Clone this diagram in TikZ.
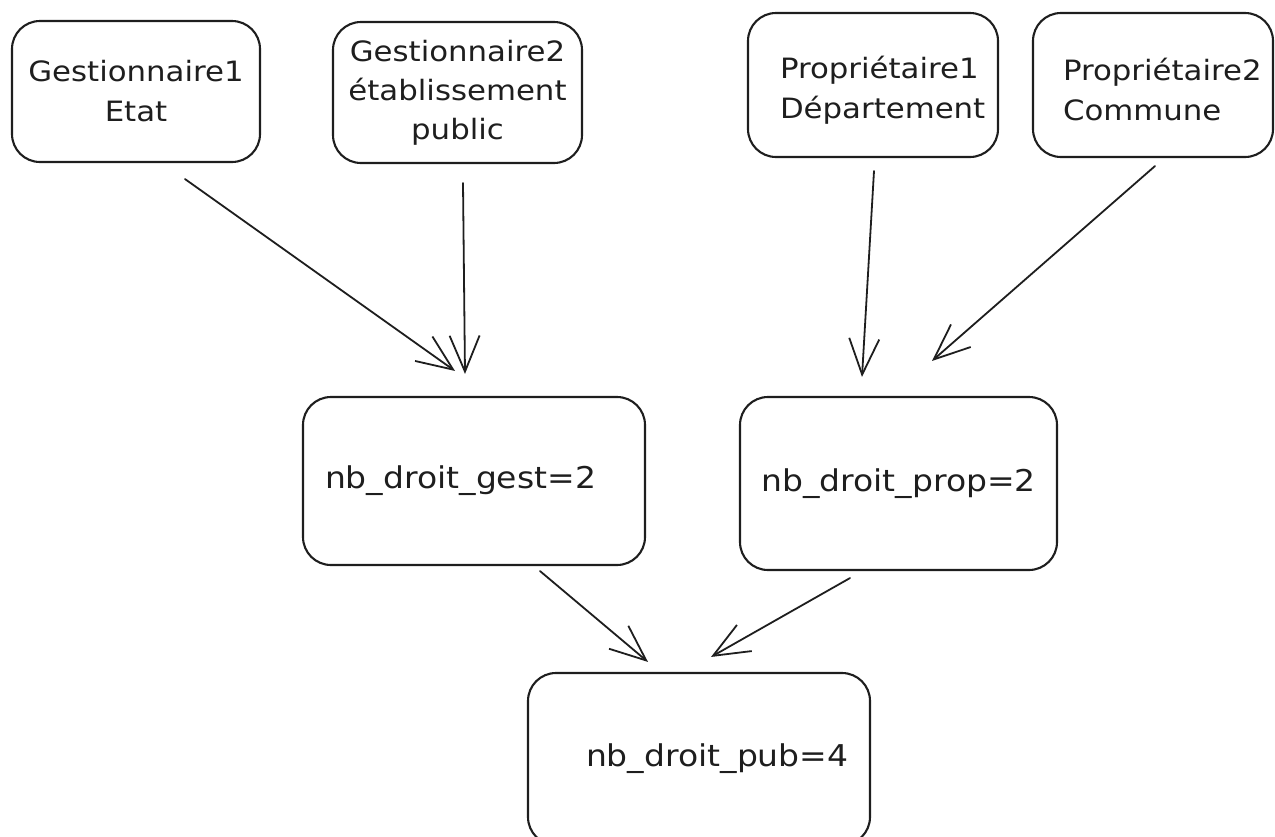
\documentclass[tikz,border=0pt]{standalone}
\usepackage{fontspec}
\setmainfont[FakeStretch=1.1]{DejaVu Sans}
\usetikzlibrary{arrows.meta,calc}
\definecolor{ink}{HTML}{1E1E1E}
\begin{document}
\begin{tikzpicture}[x=1pt,y=-1pt,
  box/.style={draw=ink, line width=2.1pt, rounded corners=28pt, inner sep=0pt, text=ink},
  toptxt/.style={font=\fontsize{28pt}{40pt}\selectfont},
  midtxt/.style={font=\fontsize{30pt}{40pt}\selectfont},
  arr/.style={draw=ink, line width=1.8pt, line cap=round,
    -{Straight Barb[length=36pt,width=30pt,line width=1.8pt]}}]
\useasboundingbox (0,0) rectangle (1275,836);
% top row
\node[box, toptxt, minimum width=248pt, minimum height=141pt, align=center] (b1) at (136,91.5)
  {Gestionnaire1\\Etat};
\node[box, toptxt, minimum width=249pt, minimum height=141pt, align=center,
  font=\fontsize{28pt}{39pt}\selectfont] (b2) at (457.5,92.5)
  {Gestionnaire2\\établissement\\public};
\node[box, toptxt, minimum width=250pt, minimum height=144pt, text width=186pt, align=left] (b3) at (873,85)
  {\rule{0pt}{32pt}Propriétaire1\\Département};
\node[box, toptxt, minimum width=240pt, minimum height=144pt, text width=180pt, align=left] (b4) at (1153,85)
  {\rule{0pt}{32pt}Propriétaire2\\Commune};
% middle row
\node[box, midtxt, minimum width=342pt, minimum height=168pt, text width=298pt, align=left] (b5) at (474,481)
  {nb\_droit\_gest=2};
\node[box, midtxt, minimum width=317pt, minimum height=173pt, align=center] (b6) at (898.5,483.5)
  {nb\_droit\_prop=2};
% bottom
\node[box, midtxt, minimum width=342pt, minimum height=172pt, text width=226pt, align=left] (b7) at (699,759)
  {nb\_droit\_pub=4};
% connectors
\draw[arr] ($(b1.south)+(49,16)$) -- ($(b5.north)+(-19,-25)$);
\draw[arr] ($(b2.south)+(5.5,19)$) -- ($(b5.north)+(-9,-22)$);
\draw[arr] ($(b3.south)+(1,13)$) -- ($(b6.north)+(-36.5,-19)$);
\draw[arr] ($(b4.south)+(2,8)$) -- ($(b6.north)+(33.5,-35)$);
\draw[arr] ($(b5.south)+(66,5)$) -- ($(b7.north)+(-51,-10)$);
\draw[arr] ($(b6.south)+(-48.5,7)$) -- ($(b7.north)+(12,-15)$);
\end{tikzpicture}
\end{document}
